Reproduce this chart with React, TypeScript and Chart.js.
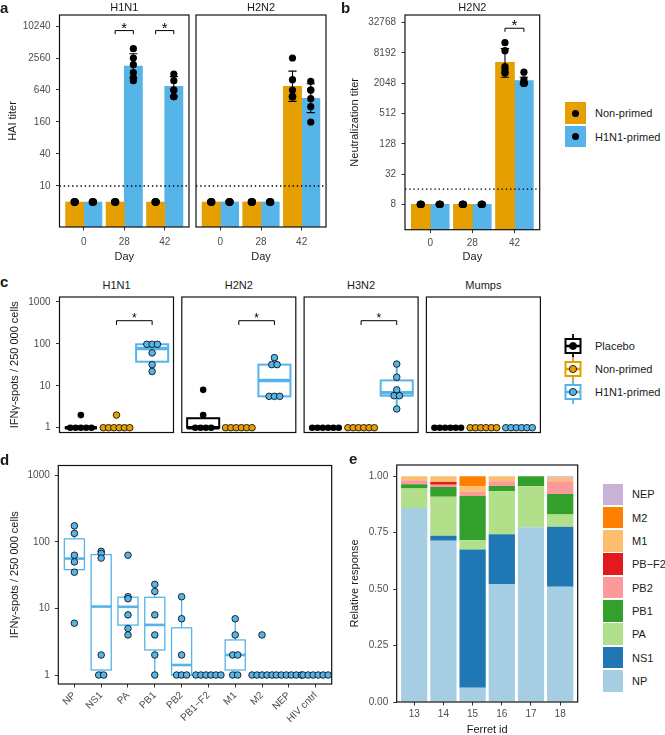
import React, { useEffect, useRef } from 'react';
import { Chart, registerables } from 'chart.js';

Chart.register(...registerables);

const FONT = "'Liberation Sans', Arial, Helvetica, sans-serif";
const ORANGE = '#E69F00';
const BLUE = '#56B4E9';
const TICK_COLOR = '#4D4D4D';
const INK = '#1A1A1A';

// ---------- Panel a: HAI titers ----------
const days = ['0', '28', '42'];
const haiTicks = [10, 40, 160, 640, 2560, 10240];
const haiDetectionLimit = 10;
const haiH1N1NonPrimed = [5, 5, 5];
const haiH1N1Primed = [5, 1810, 750];
const haiH2N2NonPrimed = [5, 5, 750];
const haiH2N2Primed = [5, 5, 447];
const haiH1N1NonPrimedPoints = [[5, 5, 5, 5, 5, 5], [5, 5, 5, 5, 5, 5], [5, 5, 5, 5, 5, 5]];
const haiH1N1PrimedPoints = [[5, 5, 5, 5, 5, 5], [3840, 2560, 1920, 1360, 1100, 960], [1280, 960, 640, 640, 480, 480]];
const haiH2N2NonPrimedPoints = [[5, 5, 5, 5, 5, 5], [5, 5, 5, 5, 5, 5], [2560, 1000, 640, 480, 480, 480]];
const haiH2N2PrimedPoints = [[5, 5, 5, 5, 5, 5], [5, 5, 5, 5, 5, 5], [930, 640, 640, 440, 310, 160]];
const haiH1N1NonPrimedErrLow = [null, null, null];
const haiH1N1NonPrimedErrHigh = [null, null, null];
const haiH1N1PrimedErrLow = [null, 1070, 490];
const haiH1N1PrimedErrHigh = [null, 3070, 1140];
const haiH2N2NonPrimedErrLow = [null, null, 390];
const haiH2N2NonPrimedErrHigh = [null, null, 1450];
const haiH2N2PrimedErrLow = [null, null, 240];
const haiH2N2PrimedErrHigh = [null, null, 840];
const haiH1N1SignificantDays = [2, 3];
const haiH2N2SignificantDays: number[] = [];
const haiBracketLevel = 8400;

// ---------- Panel b: neutralization titers ----------
const neutTicks = [8, 32, 128, 512, 2048, 8192, 32768];
const neutDetectionLimit = 16;
const neutNonPrimed = [8, 8, 5320];
const neutPrimed = [8, 8, 2310];
const neutNonPrimedPoints = [[8, 8, 8, 8, 8, 8], [8, 8, 8, 8, 8, 8], [13100, 9100, 4400, 3900, 3300, 3300]];
const neutPrimedPoints = [[8, 8, 8, 8, 8, 8], [8, 8, 8, 8, 8, 8], [3400, 2400, 2050, 2050, 2050, 2050]];
const neutNonPrimedErrLow = [null, null, 2700];
const neutNonPrimedErrHigh = [null, null, 10000];
const neutPrimedErrLow = [null, null, 1950];
const neutPrimedErrHigh = [null, null, 2700];
const neutSignificantDays = [3];
const neutBracketLevel = 25400;

// ---------- Panel c: IFNg spots per strain ----------
const spotStrains = ['H1N1', 'H2N2', 'H3N2', 'Mumps'];
const spotGroups = ['Placebo', 'Non-primed', 'H1N1-primed'];
const spotTicks = [1, 10, 100, 1000];
const spotsPlacebo = [[2, 1, 1, 1, 1, 1], [8, 2, 1, 1, 1, 1], [1, 1, 1, 1, 1, 1], [1, 1, 1, 1, 1, 1]];
const spotsNonPrimed = [[2, 1, 1, 1, 1, 1, 1], [1, 1, 1, 1, 1, 1], [1, 1, 1, 1, 1, 1], [1, 1, 1, 1, 1, 1]];
const spotsPrimed = [[98, 98, 98, 61, 32, 22], [47, 32, 32, 5.6, 5.6, 5.6], [33, 16, 8, 5.8, 5.8, 2.8], [1, 1, 1, 1, 1, 1]];
const spotsSignificant = [true, true, true, false];
const spotsBracketLevel = 358;

// ---------- Panel d: IFNg spots per antigen ----------
const antigens = ['NP', 'NS1', 'PA', 'PB1', 'PB2', 'PB1\u2212F2', 'M1', 'M2', 'NEP', 'HIV cntrl'];
const spotsNP = [174, 134, 63, 50, 35, 6];
const spotsNS1 = [72, 67, 57, 2, 1, 1];
const spotsPA = [63, 15, 14, 8, 5, 4];
const spotsPB1 = [23, 18, 8, 4, 2, 1];
const spotsPB2 = [15, 7, 2, 1, 1, 1];
const spotsPB1F2 = [1, 1, 1, 1, 1, 1];
const spotsM1 = [7, 4, 2, 2, 1, 1];
const spotsM2 = [4, 1, 1, 1, 1, 1];
const spotsNEP = [1, 1, 1, 1, 1, 1];
const spotsHIV = [1, 1, 1, 1, 1, 1];

// ---------- Panel e: relative response ----------
const ferrets = ['13', '14', '15', '16', '17', '18'];
const relTicks = [0, 0.25, 0.5, 0.75, 1];
const relNP = [0.86, 0.714, 0.063, 0.523, 0.774, 0.511];
const relNS1 = [0, 0.023, 0.613, 0.22, 0, 0.265];
const relPA = [0.086, 0.172, 0.041, 0.191, 0.182, 0.055];
const relPB1 = [0.019, 0.044, 0.196, 0.023, 0.044, 0.09];
const relPB2 = [0.017, 0.01, 0.018, 0.021, 0, 0.057];
const relPBF2 = [0, 0.012, 0, 0, 0, 0];
const relM1 = [0.018, 0.025, 0.025, 0.022, 0, 0.016];
const relM2 = [0, 0, 0.044, 0, 0, 0];
const relNEP = [0, 0, 0, 0, 0, 0.006];
const segmentNames = ['NP', 'NS1', 'PA', 'PB1', 'PB2', 'PB\u2212F2', 'M1', 'M2', 'NEP'];
const segmentColors = ['#A6CEE3', '#1F78B4', '#B2DF8A', '#33A02C', '#FB9A99', '#E31A1C', '#FDBF6F', '#FF7F00', '#CAB2D6'];

type Rect = { x: number; y: number; w: number; h: number };
type Plot = { L: number; T: number; R: number; B: number };

// ---------- helpers ----------
function swarm(values: number[], center: number, step: number) {
  const counts = new Map<number, number>();
  values.forEach((v) => counts.set(v, (counts.get(v) || 0) + 1));
  const seen = new Map<number, number>();
  return values.map((v) => {
    const n = counts.get(v) as number;
    const k = seen.get(v) || 0;
    seen.set(v, k + 1);
    return { x: center + (k - (n - 1) / 2) * step, y: v };
  });
}

function q7(sorted: number[], p: number) {
  const h = (sorted.length - 1) * p;
  const lo = Math.floor(h);
  const hi = Math.ceil(h);
  return sorted[lo] + (h - lo) * (sorted[hi] - sorted[lo]);
}

function boxStats(vals: number[]) {
  const l = vals.map((v) => Math.log10(v)).sort((a, b) => a - b);
  const q1 = q7(l, 0.25);
  const med = q7(l, 0.5);
  const q3 = q7(l, 0.75);
  const iqr = q3 - q1;
  const inside = l.filter((v) => v >= q1 - 1.5 * iqr - 1e-9 && v <= q3 + 1.5 * iqr + 1e-9);
  const p = (v: number) => Math.pow(10, v);
  return { q1: p(q1), med: p(med), q3: p(q3), wlo: p(Math.min(...inside)), whi: p(Math.max(...inside)) };
}

function barSet(xs: number[], ys: number[], color: string, barPct = 1) {
  return {
    type: 'bar',
    data: xs.map((x, i) => ({ x, y: ys[i] })),
    backgroundColor: color,
    borderWidth: 0,
    grouped: false,
    categoryPercentage: 1,
    barPercentage: barPct,
    order: 2,
  };
}

function dotSet(points: { x: number; y: number }[], fill: string, r: number, bw: number) {
  return {
    type: 'scatter',
    data: points,
    pointRadius: r,
    pointHoverRadius: r,
    pointBackgroundColor: fill,
    pointBorderColor: '#000000',
    pointBorderWidth: bw,
    order: 1,
    clip: false,
  };
}

function framePlugin() {
  return {
    id: 'frame',
    afterDatasetsDraw(chart: any) {
      const { ctx, chartArea: a } = chart;
      ctx.save();
      ctx.strokeStyle = '#111111';
      ctx.lineWidth = 1.2;
      ctx.strokeRect(a.left, a.top, a.right - a.left, a.bottom - a.top);
      ctx.restore();
    },
  };
}

function hlinePlugin(value: number) {
  return {
    id: 'hline',
    afterDatasetsDraw(chart: any) {
      const { ctx, chartArea: a, scales } = chart;
      const y = scales.y.getPixelForValue(value);
      ctx.save();
      ctx.setLineDash([1.4, 2.8]);
      ctx.lineWidth = 1.4;
      ctx.strokeStyle = '#000000';
      ctx.beginPath();
      ctx.moveTo(a.left, y);
      ctx.lineTo(a.right, y);
      ctx.stroke();
      ctx.restore();
    },
  };
}

function errPlugin(items: { x: number; lo: number; hi: number }[], cap: number) {
  return {
    id: 'errs',
    afterDatasetsDraw(chart: any) {
      const { ctx, scales } = chart;
      ctx.save();
      ctx.strokeStyle = '#000000';
      ctx.lineWidth = 1.1;
      for (const it of items) {
        const x = scales.x.getPixelForValue(it.x);
        const hw = scales.x.getPixelForValue(it.x + cap) - x;
        const ylo = scales.y.getPixelForValue(it.lo);
        const yhi = scales.y.getPixelForValue(it.hi);
        ctx.beginPath();
        ctx.moveTo(x, ylo);
        ctx.lineTo(x, yhi);
        ctx.moveTo(x - hw, yhi);
        ctx.lineTo(x + hw, yhi);
        ctx.moveTo(x - hw, ylo);
        ctx.lineTo(x + hw, ylo);
        ctx.stroke();
      }
      ctx.restore();
    },
  };
}

function bracketPlugin(items: { x1: number; x2: number; y: number }[], tickPx: number, starSize: number, starDy: number) {
  return {
    id: 'brackets',
    afterDatasetsDraw(chart: any) {
      const { ctx, scales } = chart;
      ctx.save();
      ctx.strokeStyle = '#000000';
      ctx.fillStyle = '#000000';
      ctx.lineWidth = 1;
      for (const it of items) {
        const x1 = scales.x.getPixelForValue(it.x1);
        const x2 = scales.x.getPixelForValue(it.x2);
        const y = scales.y.getPixelForValue(it.y);
        ctx.beginPath();
        ctx.moveTo(x1, y + tickPx);
        ctx.lineTo(x1, y);
        ctx.lineTo(x2, y);
        ctx.lineTo(x2, y + tickPx);
        ctx.stroke();
        ctx.font = `${starSize}px ${FONT}`;
        ctx.textAlign = 'center';
        ctx.textBaseline = 'alphabetic';
        ctx.fillText('*', (x1 + x2) / 2, y + starDy);
      }
      ctx.restore();
    },
  };
}

function boxPlugin(items: { x: number; vals: number[]; color: string }[], half: number, lw: number, mlw: number) {
  return {
    id: 'boxes',
    beforeDatasetsDraw(chart: any) {
      const { ctx, scales } = chart;
      ctx.save();
      for (const it of items) {
        const s = boxStats(it.vals);
        const cx = scales.x.getPixelForValue(it.x);
        const hw = scales.x.getPixelForValue(it.x + half) - cx;
        const Y = (v: number) => scales.y.getPixelForValue(v);
        ctx.strokeStyle = it.color;
        ctx.lineWidth = lw;
        ctx.beginPath();
        ctx.moveTo(cx, Y(s.q3));
        ctx.lineTo(cx, Y(s.whi));
        ctx.moveTo(cx, Y(s.q1));
        ctx.lineTo(cx, Y(s.wlo));
        ctx.stroke();
        const top = Y(s.q3);
        const bot = Y(s.q1);
        ctx.fillStyle = '#ffffff';
        ctx.fillRect(cx - hw, top, 2 * hw, bot - top);
        ctx.strokeRect(cx - hw, top, 2 * hw, bot - top);
        ctx.lineWidth = mlw;
        ctx.beginPath();
        ctx.moveTo(cx - hw, Y(s.med));
        ctx.lineTo(cx + hw, Y(s.med));
        ctx.stroke();
      }
      ctx.restore();
    },
  };
}

// Axes are always laid out with fixed sizes, and their label-overflow padding is
// cleared, so the plot box sits exactly where the layout says.
function makeConfig(o: any) {
  const c: Rect = o.canvas;
  const p: Plot = o.plot;
  const xs = o.x;
  const ys = o.y;
  const yW = p.L - c.x;
  const xH = c.y + c.h - p.B;
  const TS = 11;
  const LH = TS * 1.2;
  const tickFont = { family: FONT, size: 10 };
  return {
    type: 'bar',
    data: { datasets: o.datasets },
    options: {
      responsive: false,
      maintainAspectRatio: false,
      animation: false,
      devicePixelRatio: 1,
      events: [],
      layout: {
        autoPadding: false,
        padding: { left: 0, right: c.x + c.w - p.R, top: p.T - c.y, bottom: 0 },
      },
      plugins: { legend: { display: false }, tooltip: { enabled: false }, title: { display: false } },
      scales: {
        x: {
          type: 'linear',
          min: 0.4,
          max: xs.labels.length + 0.6,
          display: true,
          offset: false,
          bounds: 'data',
          afterBuildTicks: (s: any) => {
            s.ticks = xs.labels.map((_: any, i: number) => ({ value: i + 1 }));
          },
          afterFit: (s: any) => {
            s.height = xH;
            s.paddingLeft = 0;
            s.paddingRight = 0;
            s.paddingTop = 0;
            s.paddingBottom = 0;
          },
          ticks: {
            display: !!xs.show,
            autoSkip: false,
            minRotation: xs.rotate || 0,
            maxRotation: xs.rotate || 0,
            padding: xs.pad ?? 3,
            color: TICK_COLOR,
            font: tickFont,
            callback: (_v: any, i: number) => xs.labels[i],
          },
          grid: { display: !!xs.show, drawOnChartArea: false, drawTicks: true, tickLength: 3.5, tickColor: '#333333', offset: false },
          border: { display: false },
          title: xs.title
            ? { display: true, text: xs.title, color: INK, font: { family: FONT, size: TS }, padding: { top: 0, bottom: c.y + c.h - xs.titleY - LH / 2 } }
            : { display: false },
        },
        y: {
          type: ys.type,
          min: ys.min,
          max: ys.max,
          display: true,
          bounds: 'data',
          stacked: !!ys.stacked,
          afterBuildTicks: (s: any) => {
            s.ticks = ys.ticks.map((v: number) => ({ value: v }));
          },
          afterFit: (s: any) => {
            s.width = yW;
            s.paddingLeft = 0;
            s.paddingRight = 0;
            s.paddingTop = 0;
            s.paddingBottom = 0;
          },
          ticks: {
            display: !!ys.show,
            autoSkip: false,
            padding: ys.pad ?? 5.5,
            color: TICK_COLOR,
            font: tickFont,
            callback: (v: any) => (ys.fmt ? ys.fmt(Number(v)) : String(v)),
          },
          grid: { display: !!ys.show, drawOnChartArea: false, drawTicks: true, tickLength: 3.5, tickColor: '#333333' },
          border: { display: false },
          title: ys.title
            ? { display: true, text: ys.title, color: INK, font: { family: FONT, size: TS }, padding: { top: ys.titleX - c.x - LH / 2, bottom: 0 } }
            : { display: false },
        },
      },
    },
    plugins: o.plugins,
  };
}

function errItems(offset: number, lo: (number | null)[], hi: (number | null)[]) {
  const out: { x: number; lo: number; hi: number }[] = [];
  lo.forEach((l, i) => {
    const h = hi[i];
    if (l != null && h != null) out.push({ x: i + 1 + offset, lo: l, hi: h });
  });
  return out;
}

function titerPanel(o: any) {
  const unit = (o.plot.R - o.plot.L) / 3.2;
  const step = 0.25 / unit;
  const xo = days.map((_, i) => i + 1 - 0.225);
  const xb = days.map((_, i) => i + 1 + 0.225);
  const datasets = [
    barSet(xo, o.nonPrimed, ORANGE),
    barSet(xb, o.primed, BLUE),
    dotSet(o.nonPrimedPts.flatMap((v: number[], i: number) => swarm(v, xo[i], step)), '#000000', 3.6, 0),
    dotSet(o.primedPts.flatMap((v: number[], i: number) => swarm(v, xb[i], step)), '#000000', 3.6, 0),
  ];
  const plugins = [
    errPlugin([...errItems(-0.225, o.errLoN, o.errHiN), ...errItems(0.225, o.errLoP, o.errHiP)], 0.1),
    bracketPlugin(o.sigDays.map((d: number) => ({ x1: d - 0.225, x2: d + 0.225, y: o.sigLevel })), 3.6, 15, 2),
    hlinePlugin(o.limit),
    framePlugin(),
  ];
  return makeConfig({
    canvas: o.canvas,
    plot: o.plot,
    x: { labels: days, show: true, title: 'Day', titleY: o.xTitleY, pad: o.xPad },
    y: { type: 'logarithmic', min: o.yMin, max: o.yMax, ticks: o.ticks, show: o.showY, title: o.yTitle, titleX: o.yTitleX, pad: 5.5 },
    datasets,
    plugins,
  });
}

const rectA1: Rect = { x: 0, y: 12, w: 192, h: 254 };
const rectA2: Rect = { x: 193, y: 12, w: 137, h: 254 };
const rectB: Rect = { x: 341, y: 12, w: 203, h: 256 };
const rectD: Rect = { x: 0, y: 460, w: 336, h: 275 };
const rectE: Rect = { x: 341, y: 460, w: 241, h: 280 };
const cPlotLefts = [59.5, 181.8, 304.1, 426.4];
const cRects: Rect[] = cPlotLefts.map((L, f) => (f === 0 ? { x: 0, y: 294, w: 177, h: 142 } : { x: Math.floor(L) - 3, y: 294, w: 120, h: 142 }));

const configA1 = () =>
  titerPanel({
    canvas: rectA1, plot: { L: 59.5, T: 15, R: 189, B: 227 }, showY: true, yTitle: 'HAI titer', yTitleX: 13.3, xTitleY: 257, xPad: 5.5,
    yMin: 1.69, yMax: 16500, ticks: haiTicks, limit: haiDetectionLimit,
    nonPrimed: haiH1N1NonPrimed, primed: haiH1N1Primed, nonPrimedPts: haiH1N1NonPrimedPoints, primedPts: haiH1N1PrimedPoints,
    errLoN: haiH1N1NonPrimedErrLow, errHiN: haiH1N1NonPrimedErrHigh, errLoP: haiH1N1PrimedErrLow, errHiP: haiH1N1PrimedErrHigh,
    sigDays: haiH1N1SignificantDays, sigLevel: haiBracketLevel,
  });

const configA2 = () =>
  titerPanel({
    canvas: rectA2, plot: { L: 196, T: 15, R: 326, B: 227 }, showY: false, xTitleY: 257, xPad: 5.5,
    yMin: 1.69, yMax: 16500, ticks: haiTicks, limit: haiDetectionLimit,
    nonPrimed: haiH2N2NonPrimed, primed: haiH2N2Primed, nonPrimedPts: haiH2N2NonPrimedPoints, primedPts: haiH2N2PrimedPoints,
    errLoN: haiH2N2NonPrimedErrLow, errHiN: haiH2N2NonPrimedErrHigh, errLoP: haiH2N2PrimedErrLow, errHiP: haiH2N2PrimedErrHigh,
    sigDays: haiH2N2SignificantDays, sigLevel: haiBracketLevel,
  });

const configB = () =>
  titerPanel({
    canvas: rectB, plot: { L: 405, T: 15, R: 539.7, B: 229.7 }, showY: true, yTitle: 'Neutralization titer', yTitleX: 355, xTitleY: 256.7, xPad: 4,
    yMin: 2.5, yMax: 46600, ticks: neutTicks, limit: neutDetectionLimit,
    nonPrimed: neutNonPrimed, primed: neutPrimed, nonPrimedPts: neutNonPrimedPoints, primedPts: neutPrimedPoints,
    errLoN: neutNonPrimedErrLow, errHiN: neutNonPrimedErrHigh, errLoP: neutPrimedErrLow, errHiP: neutPrimedErrHigh,
    sigDays: neutSignificantDays, sigLevel: neutBracketLevel,
  });

const spotsFacetConfig = (f: number) => () => {
  const L = cPlotLefts[f];
  const plot = { L, T: 297, R: L + 114, B: 432.5 };
  const step = 5.3 / (114 / 3.2);
  const groups = [spotsPlacebo[f], spotsNonPrimed[f], spotsPrimed[f]];
  const fills = ['#000000', ORANGE, BLUE];
  const datasets = groups.map((vals, g) => dotSet(swarm(vals, g + 1, step), fills[g], 3.3, g === 0 ? 0 : 0.8));
  const plugins: any[] = [boxPlugin(groups.map((vals, g) => ({ x: g + 1, vals, color: fills[g] })), 0.45, 2, 3.5)];
  if (spotsSignificant[f]) plugins.push(bracketPlugin([{ x1: 2, x2: 3, y: spotsBracketLevel }], 4.3, 12, 1));
  plugins.push(framePlugin());
  return makeConfig({
    canvas: cRects[f],
    plot,
    x: { labels: spotGroups, show: false },
    y: {
      type: 'logarithmic', min: 0.768, max: 1316, ticks: spotTicks, show: f === 0,
      title: f === 0 ? 'IFN\u03B3-spots / 250 000 cells' : undefined, titleX: 15, pad: 5.5,
    },
    datasets,
    plugins,
  });
};

const configD = () => {
  const plot = { L: 58.3, T: 465.5, R: 331.7, B: 684 };
  const step = 5 / ((plot.R - plot.L) / 10.2);
  const groups = [spotsNP, spotsNS1, spotsPA, spotsPB1, spotsPB2, spotsPB1F2, spotsM1, spotsM2, spotsNEP, spotsHIV];
  const datasets = [dotSet(groups.flatMap((vals, g) => swarm(vals, g + 1, step)), BLUE, 3.3, 0.8)];
  const plugins = [boxPlugin(groups.map((vals, g) => ({ x: g + 1, vals, color: BLUE })), 0.375, 1.3, 2.6), framePlugin()];
  return makeConfig({
    canvas: rectD,
    plot,
    x: { labels: antigens, show: true, rotate: 45, pad: 2 },
    y: { type: 'logarithmic', min: 0.733, max: 1403, ticks: spotTicks, show: true, title: 'IFN\u03B3-spots / 250 000 cells', titleX: 15, pad: 5 },
    datasets,
    plugins,
  });
};

const configE = () => {
  const plot = { L: 396.7, T: 465, R: 577.7, B: 702 };
  const xs = ferrets.map((_, i) => i + 1);
  const series = [relNP, relNS1, relPA, relPB1, relPB2, relPBF2, relM1, relM2, relNEP];
  const datasets = series.map((vals, k) => barSet(xs, vals, segmentColors[k], 0.9));
  return makeConfig({
    canvas: rectE,
    plot,
    x: { labels: ferrets, show: true, title: 'Ferret id', titleY: 730, pad: 2.5 },
    y: { type: 'linear', min: 0, max: 1.05, ticks: relTicks, show: true, stacked: true, title: 'Relative response', titleX: 355, pad: 5, fmt: (v: number) => v.toFixed(2) },
    datasets,
    plugins: [framePlugin()],
  });
};

function ChartCanvas({ rect, config }: { rect: Rect; config: () => any }) {
  const ref = useRef<HTMLCanvasElement | null>(null);
  useEffect(() => {
    if (!ref.current) return;
    const chart = new Chart(ref.current, config());
    return () => chart.destroy();
  }, []);
  return (
    <canvas
      ref={ref}
      width={rect.w}
      height={rect.h}
      style={{ position: 'absolute', left: rect.x, top: rect.y, width: rect.w, height: rect.h }}
    />
  );
}

function Txt({ x, y, s, size = 11, bold = false, align = 'center' }: any) {
  const tx = align === 'center' ? '-50%' : align === 'right' ? '-100%' : '0';
  return (
    <div
      style={{
        position: 'absolute', left: x, top: y, transform: `translate(${tx}, -50%)`, fontSize: size,
        fontWeight: bold ? 700 : 400, lineHeight: 1, whiteSpace: 'nowrap', color: INK, fontFamily: FONT,
      }}
    >
      {s}
    </div>
  );
}

function BoxKey({ x, y, color, fill }: any) {
  return (
    <svg style={{ position: 'absolute', left: x - 10, top: y - 12 }} width={20} height={24}>
      <line x1={10} y1={0} x2={10} y2={24} stroke={color} strokeWidth={1.8} />
      <rect x={2.5} y={5} width={15} height={14} fill="#ffffff" stroke={color} strokeWidth={2} />
      <line x1={2.5} y1={12} x2={17.5} y2={12} stroke={color} strokeWidth={2.5} />
      <circle cx={10} cy={12} r={3.6} fill={fill} stroke="#000000" strokeWidth={0.8} />
    </svg>
  );
}

export default function App() {
  const cStripX = cPlotLefts.map((L) => L + 57);
  const legendB = [
    { label: 'Non-primed', color: ORANGE, y: 113.2 },
    { label: 'H1N1-primed', color: BLUE, y: 136.7 },
  ];
  const legendC = [
    { label: spotGroups[0], color: '#000000', fill: '#000000', y: 345.7 },
    { label: spotGroups[1], color: ORANGE, fill: ORANGE, y: 369.3 },
    { label: spotGroups[2], color: BLUE, fill: BLUE, y: 392.3 },
  ];
  const legendE = segmentNames.map((n, k) => ({ name: n, color: segmentColors[k] })).reverse();
  return (
    <div
      style={{
        position: 'absolute', left: 0, top: 0, width: 665, height: 735, background: '#ffffff',
        overflow: 'hidden', fontFamily: FONT,
      }}
    >
      <ChartCanvas rect={rectA1} config={configA1} />
      <ChartCanvas rect={rectA2} config={configA2} />
      <ChartCanvas rect={rectB} config={configB} />
      {spotStrains.map((_, f) => (
        <ChartCanvas key={f} rect={cRects[f]} config={spotsFacetConfig(f)} />
      ))}
      <ChartCanvas rect={rectD} config={configD} />
      <ChartCanvas rect={rectE} config={configE} />

      <Txt x={0} y={6.7} s="a" size={15} bold align="left" />
      <Txt x={341} y={7} s="b" size={15} bold align="left" />
      <Txt x={0} y={280.7} s="c" size={15} bold align="left" />
      <Txt x={0} y={459} s="d" size={15} bold align="left" />
      <Txt x={349} y={458} s="e" size={15} bold align="left" />

      <Txt x={124.3} y={7.3} s="H1N1" />
      <Txt x={261} y={7.3} s="H2N2" />
      <Txt x={472.4} y={7.3} s="H2N2" />
      {spotStrains.map((s, f) => (
        <Txt key={s} x={cStripX[f]} y={285} s={s} />
      ))}

      {legendB.map((it) => (
        <React.Fragment key={it.label}>
          <div style={{ position: 'absolute', left: 565, top: it.y - 10.8, width: 21, height: 21.5, background: it.color }} />
          <div style={{ position: 'absolute', left: 575.5 - 3.6, top: it.y - 3.6, width: 7.2, height: 7.2, borderRadius: '50%', background: '#000000' }} />
          <Txt x={595} y={it.y} s={it.label} align="left" />
        </React.Fragment>
      ))}

      {legendC.map((it) => (
        <React.Fragment key={it.label}>
          <BoxKey x={572.5} y={it.y} color={it.color} fill={it.fill} />
          <Txt x={595} y={it.y} s={it.label} align="left" />
        </React.Fragment>
      ))}

      {legendE.map((it, k) => {
        const cy = 494.3 + k * 23.33;
        return (
          <React.Fragment key={it.name}>
            <div style={{ position: 'absolute', left: 602.7, top: cy - 10.8, width: 20.6, height: 21.6, background: it.color }} />
            <Txt x={632} y={cy} s={it.name} align="left" />
          </React.Fragment>
        );
      })}
    </div>
  );
}
